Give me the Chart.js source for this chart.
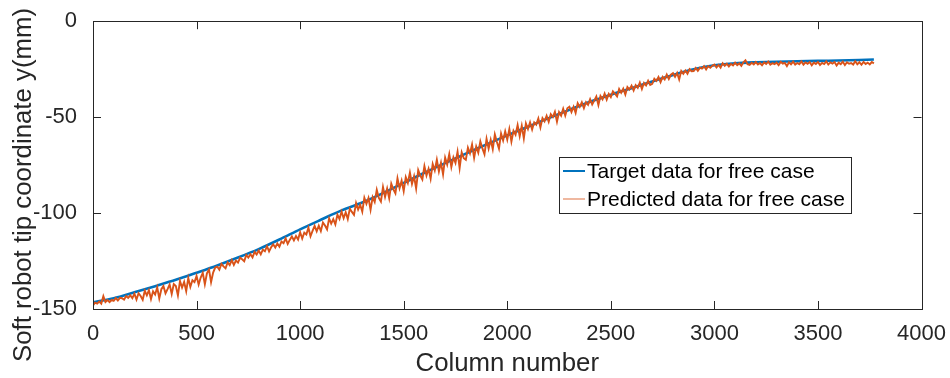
<!DOCTYPE html>
<html>
<head>
<meta charset="utf-8">
<script src="https://cdn.jsdelivr.net/npm/chart.js@4.4.1/dist/chart.umd.min.js"></script>
<style>
  html, body { margin: 0; padding: 0; background: #fff; }
  #wrap { width: 950px; height: 378px; }
</style>
</head>
<body>
<div id="wrap"><canvas id="tipChart" width="950" height="378"></canvas></div>
<script>
// axis ticks
var xTickVals = [0, 500, 1000, 1500, 2000, 2500, 3000, 3500, 4000];
var yTickVals = [-150, -100, -50, 0];

// target trajectory (column, y in mm)
var targetCols = [0, 100, 200, 300, 400, 500, 600, 700, 800, 900, 1000, 1100, 1200, 1300, 1400,
    1500, 1600, 1700, 1800, 1900, 2000, 2100, 2200, 2300, 2400, 2500, 2600, 2700, 2800, 2900,
    3000, 3100, 3200, 3300, 3400, 3500, 3600, 3700, 3770];
var targetVals = [-146.5, -144.4, -141.3, -138.1, -134.8, -131.1, -127.3, -123.2, -118.8, -113.8,
    -108.5, -103.5, -98.6, -94.5, -89.6, -84.3, -79.0, -74.0, -69.0, -64.2,
    -59.5, -55.0, -50.5, -46.2, -42.0, -38.3, -34.9, -31.4, -28.0, -25.0,
    -23.0, -21.9, -21.4, -21.1, -20.9, -20.7, -20.5, -20.2, -20.0];

// predicted values, one every 10 columns (col 0 .. 3770)
var predStep = 10;
var predVals = [
    -148.2, -146.7, -147.2, -146.1, -147.2, -143.3, -146.4, -145.3, -146.4, -145.2,
    -145.7, -144.3, -145.6, -144.2, -144.4, -145.1, -143.2, -144.2, -142.9, -144.3,
    -142.0, -145.1, -141.8, -143.2, -145.2, -140.5, -142.9, -140.2, -144.8, -140.8,
    -142.4, -138.7, -144.5, -139.7, -138.0, -141.8, -139.6, -137.2, -142.2, -137.0,
    -138.0, -142.9, -135.4, -138.8, -135.9, -140.7, -133.8, -138.5, -135.0, -136.0,
    -132.8, -137.3, -133.6, -131.2, -137.1, -131.4, -129.5, -136.0, -131.0, -128.4,
    -127.9, -129.5, -126.5, -127.8, -128.8, -125.7, -127.1, -124.5, -127.0, -124.8,
    -125.8, -123.3, -124.1, -125.1, -121.8, -123.2, -121.5, -123.1, -120.2, -121.6,
    -119.5, -121.5, -119.1, -119.9, -117.3, -120.0, -117.8, -116.3, -118.0, -115.8,
    -117.5, -114.8, -115.7, -113.2, -116.1, -114.0, -112.2, -114.2, -112.0, -113.8,
    -110.0, -113.3, -110.2, -111.2, -107.6, -112.1, -109.3, -106.7, -109.5, -106.6,
    -109.4, -104.9, -106.5, -108.5, -102.8, -105.5, -103.2, -105.9, -100.8, -103.1,
    -99.2, -102.7, -99.6, -103.1, -97.7, -99.4, -100.9, -94.8, -98.2, -95.7,
    -99.3, -92.0, -95.2, -92.1, -98.3, -91.7, -94.2, -87.9, -92.1, -94.0,
    -86.4, -91.6, -87.2, -92.3, -84.7, -87.6, -89.7, -81.9, -87.0, -83.1,
    -88.6, -81.3, -84.3, -78.9, -84.8, -80.8, -87.2, -77.6, -80.5, -82.5,
    -75.5, -80.4, -76.9, -82.1, -74.4, -77.8, -72.2, -78.3, -73.7, -79.8,
    -71.1, -74.7, -69.3, -76.0, -71.0, -73.9, -68.0, -76.5, -68.3, -71.4,
    -72.2, -65.9, -68.9, -64.3, -71.2, -65.3, -68.5, -62.6, -66.3, -69.3,
    -61.3, -66.4, -61.8, -66.7, -59.0, -63.0, -66.4, -58.5, -62.2, -57.4,
    -61.7, -56.2, -62.7, -57.1, -59.2, -54.1, -59.9, -54.5, -61.1, -53.3,
    -56.2, -52.7, -56.5, -52.7, -53.9, -50.7, -55.4, -50.5, -52.2, -49.3,
    -52.4, -48.5, -50.0, -47.2, -52.4, -47.4, -49.2, -45.6, -49.2, -45.4,
    -44.6, -47.4, -44.6, -47.8, -42.7, -44.7, -42.3, -45.3, -42.2, -43.6,
    -40.6, -43.4, -41.4, -39.2, -43.7, -39.0, -40.7, -37.7, -40.9, -37.9,
    -39.6, -36.6, -37.8, -39.2, -35.3, -37.3, -35.2, -38.2, -34.3, -35.6,
    -33.6, -36.1, -33.3, -34.7, -32.0, -35.3, -32.2, -33.5, -31.0, -33.2,
    -32.6, -30.0, -31.1, -29.1, -31.8, -29.0, -30.3, -27.8, -30.1, -27.8,
    -27.1, -29.0, -27.0, -30.4, -25.9, -27.4, -25.7, -27.4, -25.0, -26.1,
    -26.0, -24.4, -25.9, -24.2, -24.7, -23.4, -25.1, -23.4, -24.3, -23.2,
    -22.6, -24.1, -22.8, -24.2, -21.9, -23.2, -22.1, -23.6, -22.3, -23.1,
    -21.6, -22.9, -22.0, -23.3, -21.4, -20.4, -22.4, -22.8, -21.7, -22.5,
    -21.3, -22.6, -21.8, -23.0, -21.5, -22.3, -21.0, -22.7, -21.9, -22.4,
    -21.6, -22.9, -21.2, -22.1, -21.7, -23.4, -21.4, -22.5, -21.1, -22.6,
    -21.8, -22.4, -21.0, -22.7, -21.5, -22.2, -21.3, -23.0, -21.6, -22.3,
    -21.2, -22.8, -21.7, -22.3, -20.9, -22.6, -21.5, -22.1, -21.3, -23.1,
    -21.6, -22.4, -21.1, -22.9, -21.4, -22.2, -21.8, -22.6, -20.9, -22.5,
    -21.4, -22.7, -21.2, -22.3, -21.6, -22.5, -21.3, -22.0
];

var seriesNames = ['Target data for free case', 'Predicted data for free case'];
var xTitle = 'Column number';
var yTitle = 'Soft robot tip coordinate y(mm)';

(function() {
    var FONT = '"Liberation Sans", Arial, Helvetica, sans-serif';
    var AXIS_COLOR = '#262626';
    var BLUE = '#0072BD';
    var ORANGE = '#D95319';

    var targetData = targetCols.map(function(c, i) { return { x: c, y: targetVals[i] }; });
    var predData = predVals.map(function(v, i) { return { x: i * predStep, y: v }; });

    // matlab-like box, inward ticks, titles and legend
    var matlabAxes = {
        id: 'matlabAxes',
        afterDatasetsDraw: function(chart) {
            var ctx = chart.ctx;
            var a = chart.chartArea;
            var xs = chart.scales.x, ys = chart.scales.y;
            var tick = 8;
            ctx.save();
            ctx.strokeStyle = AXIS_COLOR;
            ctx.lineWidth = 1;
            ctx.beginPath();
            xTickVals.forEach(function(v) {
                var px = Math.round(xs.getPixelForValue(v)) + 0.5;
                ctx.moveTo(px, a.bottom); ctx.lineTo(px, a.bottom - tick);
                ctx.moveTo(px, a.top); ctx.lineTo(px, a.top + tick);
            });
            yTickVals.forEach(function(v) {
                var py = Math.round(ys.getPixelForValue(v)) + 0.5;
                ctx.moveTo(a.left, py); ctx.lineTo(a.left + tick, py);
                ctx.moveTo(a.right, py); ctx.lineTo(a.right - tick, py);
            });
            ctx.stroke();
            ctx.strokeRect(Math.round(a.left) + 0.5, Math.round(a.top) + 0.5,
                Math.round(a.right - a.left), Math.round(a.bottom - a.top));

            // legend
            var lx = 559.5, ly = 157.5, lw = 292, lh = 56;
            ctx.fillStyle = '#fff';
            ctx.fillRect(lx, ly, lw, lh);
            ctx.strokeStyle = AXIS_COLOR;
            ctx.strokeRect(lx, ly, lw, lh);
            ctx.lineWidth = 2;
            ctx.strokeStyle = BLUE;
            ctx.beginPath(); ctx.moveTo(563, 171); ctx.lineTo(585, 171); ctx.stroke();
            ctx.lineWidth = 1.5;
            ctx.strokeStyle = 'rgba(217, 83, 25, 0.55)';
            ctx.beginPath(); ctx.moveTo(563, 199); ctx.lineTo(585, 199); ctx.stroke();
            ctx.fillStyle = '#000';
            ctx.font = '21px ' + FONT;
            ctx.textAlign = 'left';
            ctx.textBaseline = 'middle';
            ctx.fillText(seriesNames[0], 587, 172);
            ctx.fillText(seriesNames[1], 587, 200);

            // axis titles
            ctx.fillStyle = AXIS_COLOR;
            ctx.font = '25.8px ' + FONT;
            ctx.textAlign = 'center';
            ctx.textBaseline = 'alphabetic';
            ctx.fillText(xTitle, (a.left + a.right) / 2, 371);
            ctx.translate(31, 185);
            ctx.rotate(-Math.PI / 2);
            ctx.fillText(yTitle, 0, 0);
            ctx.restore();
        }
    };

    var ctx = document.getElementById('tipChart').getContext('2d');
    var tipChart = new Chart(ctx, {
        type: 'line',
        data: {
            datasets: [{
                label: seriesNames[0],
                data: targetData,
                borderColor: BLUE,
                borderWidth: 2.6,
                pointRadius: 0,
                tension: 0.3,
                order: 2
            }, {
                label: seriesNames[1],
                data: predData,
                borderColor: ORANGE,
                borderWidth: 1.9,
                pointRadius: 0,
                tension: 0,
                order: 1
            }]
        },
        options: {
            responsive: false,
            animation: false,
            events: [],
            layout: { padding: { top: 21, right: 27, left: 0, bottom: 0 } },
            plugins: {
                legend: { display: false },
                tooltip: { enabled: false }
            },
            scales: {
                x: {
                    type: 'linear',
                    min: 0,
                    max: 4000,
                    afterBuildTicks: function(s) { s.ticks = xTickVals.map(function(v) { return { value: v }; }); },
                    afterFit: function(s) { s.height = 69; },
                    grid: { display: false },
                    border: { display: false },
                    ticks: {
                        color: AXIS_COLOR,
                        font: { family: FONT, size: 22 },
                        padding: 4,
                        maxRotation: 0,
                        callback: function(v) { return String(v); }
                    }
                },
                y: {
                    type: 'linear',
                    min: -150,
                    max: 0,
                    afterBuildTicks: function(s) { s.ticks = yTickVals.map(function(v) { return { value: v }; }); },
                    afterFit: function(s) { s.width = 93; },
                    grid: { display: false },
                    border: { display: false },
                    ticks: {
                        color: AXIS_COLOR,
                        font: { family: FONT, size: 22 },
                        padding: 8,
                        callback: function(v) { return String(v); }
                    }
                }
            }
        },
        plugins: [matlabAxes]
    });
})();
</script>
</body>
</html>
